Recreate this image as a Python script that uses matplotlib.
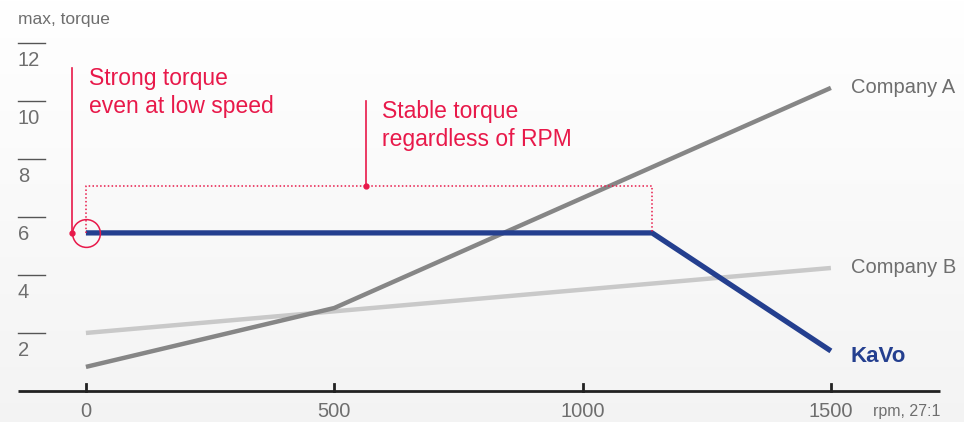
import numpy as np
import matplotlib.pyplot as plt

plt.rcParams['font.family'] = ['Liberation Sans', 'DejaVu Sans']

# data (rpm, torque)
kavo_rpm = [0, 1140, 1500]
kavo_torque = [5.45, 5.45, 1.38]
a_rpm = [0, 500, 1500]
a_torque = [0.83, 2.86, 10.45]
b_rpm = [0, 1500]
b_torque = [2.0, 4.24]

y_ticks = [2, 4, 6, 8, 10, 12]
x_ticks = [0, 500, 1000, 1500]
box_top = 7.07
stable_rpm = 564

red = '#e8194a'
blue = '#243f8f'
grey_a = '#868686'
grey_b = '#c9c9c9'
txt_grey = '#6e6e6e'

fig = plt.figure(figsize=(9.64, 4.22), dpi=100)
fig.patch.set_facecolor('#f7f7f7')

# soft background gradient
bg = fig.add_axes([0, 0, 1, 1], zorder=-1)
grad = np.linspace(1.0, 0.955, 200).reshape(-1, 1)
bg.imshow(np.dstack([grad, grad, grad]), aspect='auto', extent=[0, 1, 0, 1])
bg.axis('off')

ax = fig.add_axes([0, 0, 1, 1])
ax.patch.set_alpha(0)
ax.set_xlim(-173, 1768)
ax.set_ylim(-1.07, 13.48)
ax.axis('off')

# lines
ax.plot(b_rpm, b_torque, color=grey_b, lw=3.2, solid_capstyle='butt')
ax.plot(a_rpm, a_torque, color=grey_a, lw=3.2, solid_capstyle='butt')
ax.plot(kavo_rpm, kavo_torque, color=blue, lw=3.8, solid_capstyle='butt',
        solid_joinstyle='miter')

# series labels
ax.text(1540, a_torque[-1], 'Company A', color=txt_grey, fontsize=14.5,
        va='center', ha='left')
ax.text(1540, b_torque[-1], 'Company B', color=txt_grey, fontsize=14.5,
        va='center', ha='left')
ax.text(1540, kavo_torque[-1] - 0.2, 'KaVo', color=blue, fontsize=16,
        fontweight='bold', va='center', ha='left')

# x axis
ax.plot([-137, 1720], [0, 0], color='#222222', lw=2, solid_capstyle='butt')
for t in x_ticks:
    ax.plot([t, t], [0, 0.25], color='#222222', lw=2)
    ax.text(t, -0.72, str(t), color=txt_grey, fontsize=14.5, ha='center', va='center')
ax.text(1720, -0.72, 'rpm, 27:1', color=txt_grey, fontsize=11.5, ha='right', va='center')

# y axis ticks (line above label)
for t in y_ticks:
    ax.plot([-137, -83], [t, t], color='#555555', lw=1)
    ax.text(-137, t - 0.6, str(t), color=txt_grey, fontsize=14.5, ha='left', va='center')
ax.text(-137, 12.8, 'max, torque', color=txt_grey, fontsize=12.5, ha='left', va='center')

# annotation: strong torque at low speed
ax.plot([0], [kavo_torque[0]], 'o', ms=20, mfc='none', mec=red, mew=1.1)
ax.plot([-28, -28], [kavo_torque[0], 11.15], color=red, lw=1.2)
ax.plot([-28], [kavo_torque[0]], 'o', color=red, ms=3.5)
ax.text(6, 10.3, 'Strong torque\neven at low speed', color=red, fontsize=16.5,
        ha='left', va='center', linespacing=1.3)

# annotation: stable torque box
ax.plot([0, 0, kavo_rpm[1], kavo_rpm[1]],
        [kavo_torque[0], box_top, box_top, kavo_torque[0]],
        color=red, lw=1.1, ls=(0, (1, 1.5)))
ax.plot([stable_rpm, stable_rpm], [box_top, 10.0], color=red, lw=1.2)
ax.plot([stable_rpm], [box_top], 'o', color=red, ms=3.5)
ax.text(596, 9.15, 'Stable torque\nregardless of RPM', color=red, fontsize=16.5,
        ha='left', va='center', linespacing=1.3)

fig.savefig('out.png', dpi=100)
